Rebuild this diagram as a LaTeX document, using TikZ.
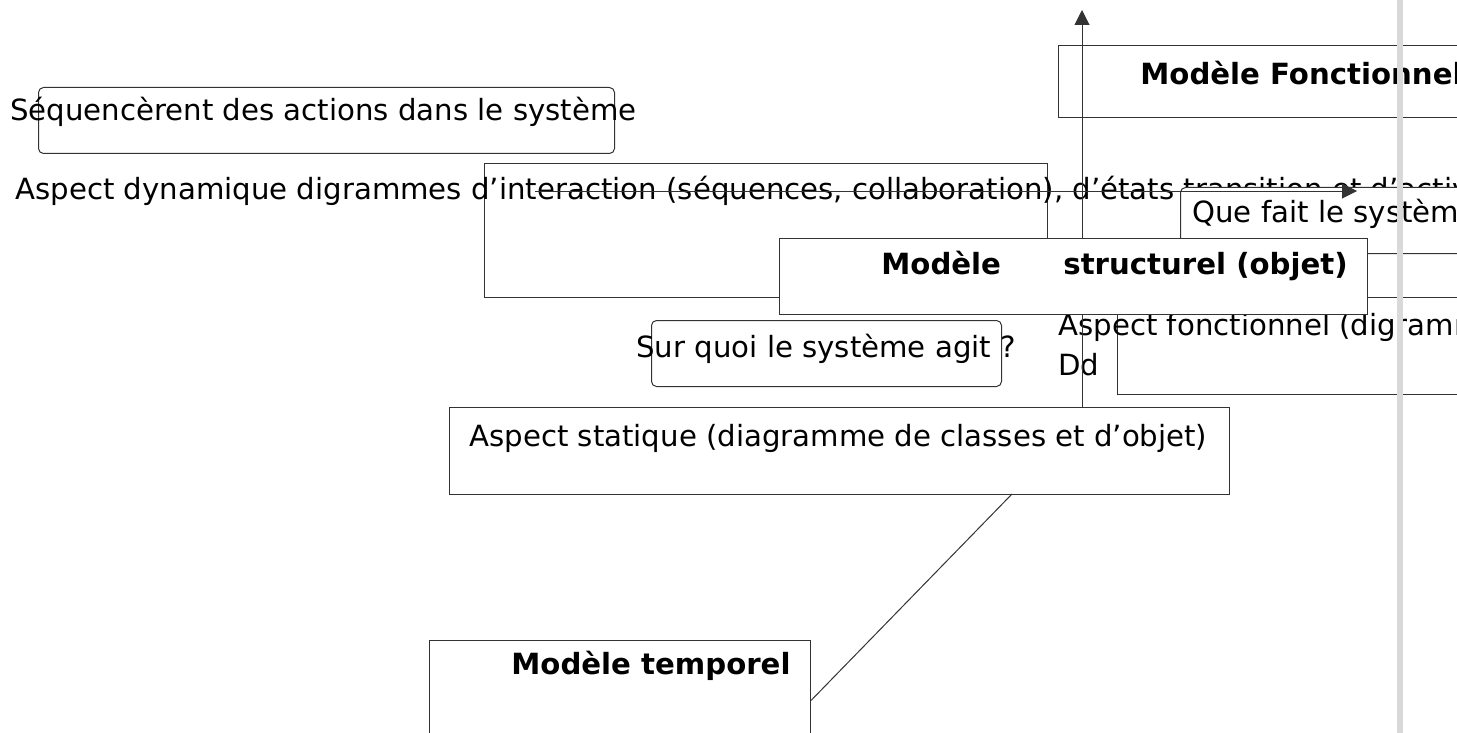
\documentclass[tikz,border=0pt]{standalone}
\usepackage{fontspec}
\setmainfont{DejaVu Sans}
\usetikzlibrary{positioning, arrows.meta}
\tikzset{>={Triangle[length=7.5pt, width=7.5pt]},
  box/.style={draw=black!80, line width=0.5pt, anchor=north west, inner sep=0pt},
  rbox/.style={box, rounded corners=2.5pt},
  lbl/.style={anchor=west, inner sep=0pt, align=left, font=\fontsize{14.6}{20}\selectfont},
  blbl/.style={lbl, font=\fontsize{14.6}{20}\selectfont\bfseries},
  link/.style={draw=black!80, line width=0.5pt}}

\begin{document}
\begin{tikzpicture}[x=0.5pt, y=-0.5pt]
    \useasboundingbox (0,0) rectangle (1457,733);
    \clip (0,0) rectangle (1457,733);
    \coordinate (top) at (1082,10);
    \coordinate (h1) at (535,191);
    \coordinate (h2) at (1357,191);
    \coordinate (d1) at (1012,494);
    % haut
    \node[rbox, minimum width=288pt, minimum height=33pt] (seq) at (38,87) {};
    \node[lbl] (seqtxt) at (10,112) {Séquencèrent des actions dans le système};
    \node[box, minimum width=221pt, minimum height=36pt] (fonc) at (1058,45) {};
    \node[blbl] (fonctxt) at (1140,73) {Modèle Fonctionnel};
    \node[box, minimum width=281.5pt, minimum height=67pt] (dyn) at (484,163) {};
    \node[lbl] (dyntxt) at (15,191) {Aspect dynamique digrammes d’interaction (séquences, collaboration), d’états transition et d’activités};
    \node[rbox, fill=white, minimum width=160pt, minimum height=33pt] (que) at (1180,187) {};
    \node[lbl] (quetxt) at (1192,214) {Que fait le système ?};
    \draw[link, ->, fill=black] (h1) -- (h2);
    % milieu
    \node[box, minimum width=191.5pt, minimum height=48.5pt] (fct) at (1117,297) {};
    \node[lbl] (fcttxt) at (1058,345) {Aspect fonctionnel (digramme de cas d’utilisation)\\Dd};
    \node[box, minimum width=390pt, minimum height=43.5pt] (stat) at (449,407) {};
    \node[lbl] (stattxt) at (469,438) {Aspect statique (diagramme de classes et d’objet)};
    \draw[link, ->, fill=black] (stat.north -| top) -- (top);
    \node[box, fill=white, minimum width=294pt, minimum height=38pt] (struct) at (779,238) {};
    \node[blbl] (structtxt) at (881,266) {\makebox[91pt][l]{Modèle}structurel (objet)};
    \node[rbox, minimum width=175pt, minimum height=33pt] (sur) at (651,320) {};
    \node[lbl] (surtxt) at (636,349) {Sur quoi le système agit ?};
    % bas
    \node[box, minimum width=190.5pt, minimum height=60pt] (temp) at (429,640) {};
    \node[blbl] (temptxt) at (511,666) {Modèle temporel};
    \draw[link] (d1) -- (temp.east);
    \fill[gray!30] (1397,0) rectangle (1403,733);
\end{tikzpicture}
\end{document}
